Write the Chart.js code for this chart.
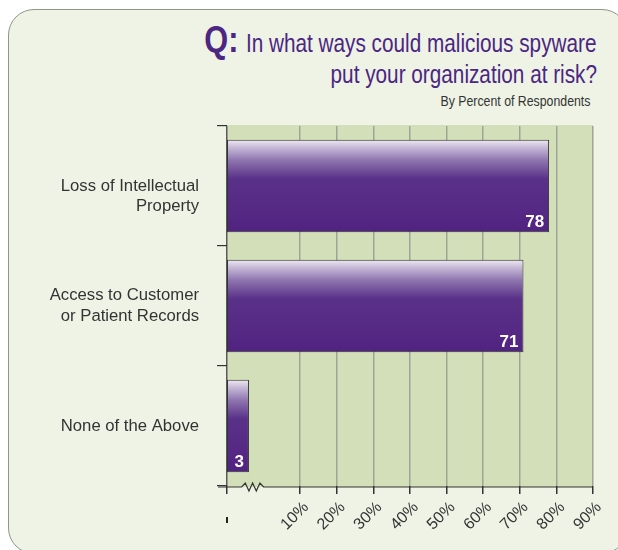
<!DOCTYPE html>
<html>
<head>
<meta charset="utf-8">
<script src="https://cdn.jsdelivr.net/npm/chart.js@4.4.1/dist/chart.umd.min.js"></script>
<style>
  html, body { margin: 0; padding: 0; background: #fff; }
  #wrap { position: relative; width: 618px; height: 550px; overflow: hidden; }
  #panel { position: absolute; left: 8px; top: 9px; width: 620px; height: 545px;
           border: 1.5px solid #8b9983; border-radius: 26px; background: #eef3e5; box-sizing: border-box; }
  #chart { position: absolute; left: 0; top: 0; }
  .t { position: absolute; right: 21px; white-space: nowrap; color: #4b2683;
       font-family: "Liberation Sans", Arial, sans-serif; transform-origin: right center; }
  #q1 { top: 20px; font-size: 25px; line-height: 40px; transform: scaleX(0.83); }
  #q1 b { font-size: 37px; margin-right: 9px; }
  #q2 { top: 60px; font-size: 25px; line-height: 28px; transform: scaleX(0.83); }
  #sub { top: 92px; right: 28px; font-size: 14px; line-height: 18px; color: #333; transform: scaleX(0.88); }
</style>
</head>
<body>
<div id="wrap">
  <div id="panel"></div>
  <div class="t" id="q1"><b>Q:</b>In what ways could malicious spyware</div>
  <div class="t" id="q2">put your organization at risk?</div>
  <div class="t" id="sub">By Percent of Respondents</div>
  <canvas id="chart" width="618" height="550"></canvas>
</div>
<script>
var categories = [['Loss of Intellectual', 'Property'], ['Access to Customer', 'or Patient Records'], 'None of the Above'];
var percents = [78, 71, 3];
var tickValues = [10, 20, 30, 40, 50, 60, 70, 80, 90];

// broken axis: the 0-10 stretch is drawn twice as wide as the others
function axisPos(v) { return v < 10 ? 2 * v - 10 : v; }

// the first label sits a line lower in the original, pad it with a blank line
var yLabels = categories.map(function(c, i) { return i === 0 ? [''].concat(c) : c; });

function barFill(ctx) {
  var chart = ctx.chart;
  if (!chart.chartArea || !chart.scales.y) return '#52267f';
  var yScale = chart.scales.y;
  var half = yScale.getPixelForValue(1) - yScale.getPixelForValue(0);
  half = half * 0.77 / 2;
  var yc = yScale.getPixelForValue(ctx.dataIndex);
  var g = chart.ctx.createLinearGradient(0, yc - half, 0, yc + half);
  g.addColorStop(0, '#efeaf4');
  g.addColorStop(0.08, '#c8bbd8');
  g.addColorStop(0.22, '#8f76af');
  g.addColorStop(0.42, '#5a3189');
  g.addColorStop(1, '#512381');
  return g;
}

var decor = {
  id: 'decor',
  beforeDraw: function(chart) {
    var c = chart.ctx, a = chart.chartArea;
    c.save();
    c.fillStyle = '#d3dfb9';
    c.fillRect(a.left, a.top - 1, a.right - a.left, a.bottom - a.top + 2);
    c.restore();
  },
  afterDatasetsDraw: function(chart) {
    var c = chart.ctx;
    var meta = chart.getDatasetMeta(0);
    c.save();
    c.fillStyle = '#ffffff';
    c.font = 'bold 17px "Liberation Sans", Arial, sans-serif';
    c.textAlign = 'right';
    c.textBaseline = 'alphabetic';
    meta.data.forEach(function(bar, i) {
      var p = bar.getProps(['x', 'y', 'base', 'height'], true);
      var right = Math.max(p.x, p.base);
      c.fillText(String(percents[i]), right - 5, p.y + p.height / 2 - 5);
    });
    c.restore();
  },
  afterDraw: function(chart) {
    var c = chart.ctx, a = chart.chartArea, x = chart.scales.x;
    var y = a.bottom + 1;
    var b0 = x.getPixelForValue(-6), b1 = x.getPixelForValue(0);
    c.save();
    c.strokeStyle = '#333';
    c.lineWidth = 1.2;
    c.beginPath();
    c.moveTo(a.left - 9, y);
    c.lineTo(b0, y);
    var n = 6, step = (b1 - b0) / n;
    for (var k = 1; k < n; k++) {
      c.lineTo(b0 + step * k, y + (k % 2 ? -4 : 4));
    }
    c.lineTo(b1, y);
    c.lineTo(a.right, y);
    c.stroke();
    c.fillStyle = '#222';
    c.fillRect(a.left - 1, 517, 2, 6);
    c.restore();
  }
};

new Chart(document.getElementById('chart'), {
  type: 'bar',
  data: {
    labels: yLabels,
    datasets: [{
      data: percents.map(function(v) { return [-10, axisPos(v)]; }),
      backgroundColor: barFill,
      borderColor: '#333',
      borderWidth: 1,
      borderSkipped: false,
      barPercentage: 0.77,
      categoryPercentage: 1
    }]
  },
  options: {
    indexAxis: 'y',
    responsive: false,
    animation: false,
    layout: { padding: { top: 126, right: 25, left: 0, bottom: 0 } },
    plugins: { legend: { display: false }, tooltip: { enabled: false } },
    scales: {
      x: {
        type: 'linear',
        min: -10,
        max: 90,
        afterFit: function(s) { s.height = 64; },
        ticks: {
          stepSize: 10,
          autoSkip: false,
          minRotation: 45,
          maxRotation: 45,
          padding: 4,
          labelOffset: 6,
          color: '#333',
          font: { family: '"Liberation Sans", Arial, sans-serif', size: 16 },
          callback: function(v) { return tickValues.indexOf(v) >= 0 ? v + '%' : ''; }
        },
        grid: {
          lineWidth: 1.5,
          tickLength: 8,
          color: function(ctx) {
            if (!ctx.tick) return '#9ea596';
            if (ctx.tick.value === 0) return 'rgba(0,0,0,0)';
            return ctx.tick.value === -10 ? '#5a5a5a' : '#9ea596';
          },
          tickColor: function(ctx) {
            return ctx.tick && ctx.tick.value === 0 ? 'rgba(0,0,0,0)' : '#333';
          }
        },
        border: { display: false }
      },
      y: {
        afterFit: function(s) { s.width = 227; },
        ticks: {
          padding: 18,
          color: '#333',
          font: { family: '"Liberation Sans", Arial, sans-serif', size: 16.7, lineHeight: 1.25 }
        },
        grid: {
          offset: true,
          drawOnChartArea: false,
          tickLength: 10,
          tickColor: '#333',
          lineWidth: 1.2
        },
        border: { display: false }
      }
    }
  },
  plugins: [decor]
});
</script>
</body>
</html>
